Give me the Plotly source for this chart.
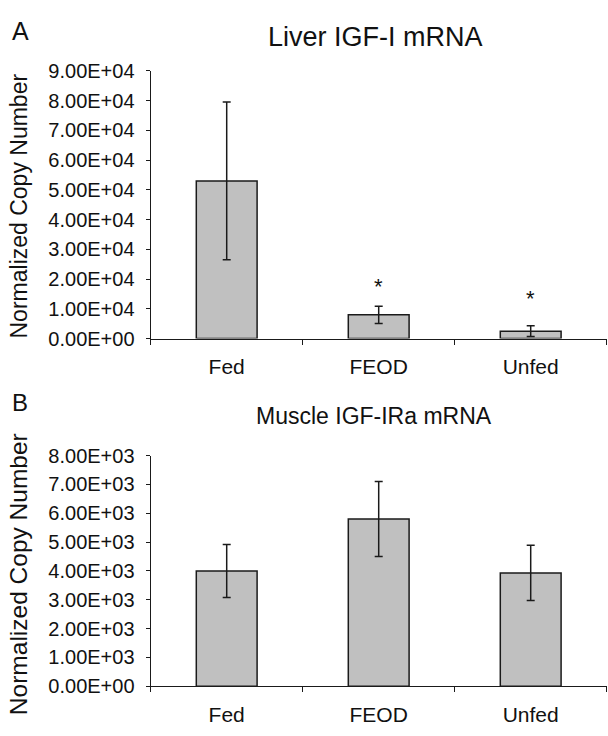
import plotly.graph_objects as go

# ---- data ----
categories = ["Fed", "FEOD", "Unfed"]

liver_igf1 = [53000, 8000, 2500]
liver_igf1_err = [26500, 2900, 1800]
liver_sig = ["", "*", "*"]

muscle_igf1ra = [4000, 5800, 3930]
muscle_igf1ra_err = [920, 1300, 960]

liver_ticks = [0, 10000, 20000, 30000, 40000, 50000, 60000, 70000, 80000, 90000]
muscle_ticks = [0, 1000, 2000, 3000, 4000, 5000, 6000, 7000, 8000]

W, H = 608, 736
FONT = "Liberation Sans, Arial, Helvetica, sans-serif"


def px_x(p):
    return p / W


def px_y(p):
    return 1 - p / H


fig = go.Figure()

bar_style = dict(
    marker=dict(color="#c0c0c0", line=dict(color="#1a1a1a", width=1.5)),
    width=0.4,
    showlegend=False,
    hoverinfo="skip",
)

fig.add_trace(go.Bar(
    x=categories, y=liver_igf1,
    error_y=dict(type="data", array=liver_igf1_err, visible=True,
                 color="#1a1a1a", thickness=1.5, width=4),
    xaxis="x", yaxis="y", **bar_style))

fig.add_trace(go.Bar(
    x=categories, y=muscle_igf1ra,
    error_y=dict(type="data", array=muscle_igf1ra_err, visible=True,
                 color="#1a1a1a", thickness=1.5, width=4),
    xaxis="x2", yaxis="y2", **bar_style))

xdom = [px_x(150.7), px_x(606.7)]

common_x = dict(
    type="category", showline=True, linecolor="#1a1a1a", linewidth=1.3,
    ticks="outside", tickson="boundaries", ticklen=5, tickcolor="#1a1a1a",
    tickwidth=1.3, showgrid=False, zeroline=False,
    tickfont=dict(family=FONT, size=21, color="#111"),
    ticklabelstandoff=9,
    domain=xdom, fixedrange=True,
)
common_y = dict(
    showline=True, linecolor="#1a1a1a", linewidth=1.3,
    ticks="outside", ticklen=4, tickcolor="#1a1a1a", tickwidth=1.3,
    showgrid=False, zeroline=False,
    tickfont=dict(family=FONT, size=20, color="#111"),
    ticklabelstandoff=7,
    fixedrange=True,
)

fig.update_layout(
    width=W, height=H,
    margin=dict(l=0, r=0, t=0, b=0),
    paper_bgcolor="white", plot_bgcolor="white",
    bargap=0.6,
    xaxis=dict(anchor="y", **common_x),
    yaxis=dict(anchor="x", domain=[px_y(337.7), px_y(61.7)],
               range=[0, 90000], tickvals=liver_ticks,
               ticktext=[f"{v:.2E}" for v in liver_ticks], **common_y),
    xaxis2=dict(anchor="y2", **common_x),
    yaxis2=dict(anchor="x2", domain=[px_y(696), px_y(458.3)],
                range=[0, 8000], tickvals=muscle_ticks,
                ticktext=[f"{v:.2E}" for v in muscle_ticks], **common_y),
)

ann = []
# panel letters
ann.append(dict(text="A", x=px_x(10), y=px_y(21), xref="paper", yref="paper",
                xanchor="left", yanchor="middle", showarrow=False,
                font=dict(family=FONT, size=25, color="#111")))
ann.append(dict(text="B", x=px_x(10), y=px_y(404), xref="paper", yref="paper",
                xanchor="left", yanchor="middle", showarrow=False,
                font=dict(family=FONT, size=24, color="#111")))
# titles
ann.append(dict(text="Liver IGF-I mRNA", x=px_x(375), y=px_y(27), xref="paper",
                yref="paper", xanchor="center", yanchor="middle", showarrow=False,
                font=dict(family=FONT, size=27, color="#111")))
ann.append(dict(text="Muscle IGF-IRa mRNA", x=px_x(374), y=px_y(417), xref="paper",
                yref="paper", xanchor="center", yanchor="middle", showarrow=False,
                font=dict(family=FONT, size=23, color="#111")))
# y titles
ann.append(dict(text="Normalized Copy Number", x=px_x(18.5), y=px_y(201),
                xref="paper", yref="paper", xanchor="center", yanchor="middle",
                textangle=-90, showarrow=False,
                font=dict(family=FONT, size=23, color="#111")))
ann.append(dict(text="Normalized Copy Number", x=px_x(18.5), y=px_y(581),
                xref="paper", yref="paper", xanchor="center", yanchor="middle",
                textangle=-90, showarrow=False,
                font=dict(family=FONT, size=24.5, color="#111")))
# significance asterisks
star_y = {"FEOD": 17500, "Unfed": 13600}
for c, s in zip(categories, liver_sig):
    if s:
        ann.append(dict(text=s, x=c, y=star_y[c], xref="x", yref="y",
                        xanchor="center", yanchor="middle", showarrow=False,
                        font=dict(family=FONT, size=22, color="#111")))

fig.update_layout(annotations=ann)

fig.write_html("out.html", post_script="document.body.style.margin='0';",
               config={"displayModeBar": False})
